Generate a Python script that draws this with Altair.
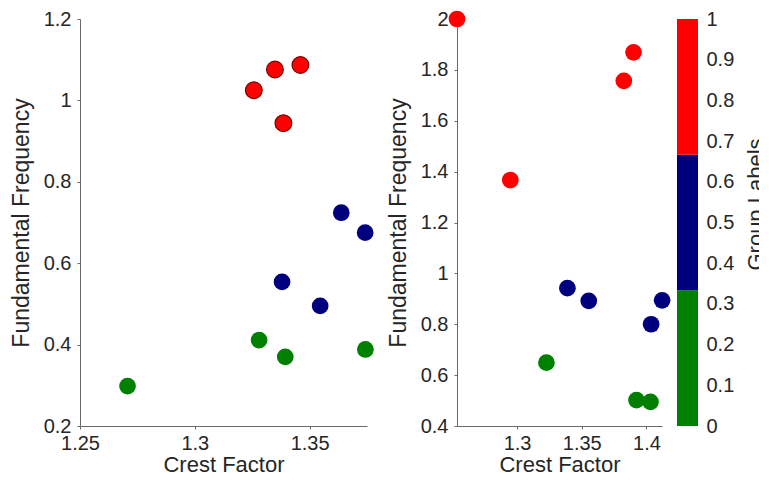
import altair as alt
import pandas as pd

# ---- Left panel data ----
left_red_x = [1.3257, 1.3349, 1.3460, 1.3386]
left_red_y = [1.025, 1.076, 1.087, 0.944]
left_blue_x = [1.3638, 1.3742, 1.3380, 1.3546]
left_blue_y = [0.724, 0.675, 0.554, 0.495]
left_green_x = [1.3280, 1.3394, 1.3743, 1.2707]
left_green_y = [0.411, 0.370, 0.388, 0.298]

# ---- Right panel data ----
right_red_x = [1.2536, 1.3900, 1.3825, 1.2948]
right_red_y = [2.000, 1.869, 1.757, 1.367]
right_blue_x = [1.3389, 1.3554, 1.4121, 1.4036]
right_blue_y = [0.942, 0.892, 0.894, 0.800]
right_green_x = [1.3227, 1.3923, 1.4031]
right_green_y = [0.649, 0.502, 0.495]

# group label values (colormap 0..1, three bins)
group_names = ["0", "0.5", "1"]
group_colors = ["#007f00", "#00007f", "#ff0000"]

left_x_ticks = [1.25, 1.3, 1.35]
left_y_ticks = [0.2, 0.4, 0.6, 0.8, 1, 1.2]
right_x_ticks = [1.3, 1.35, 1.4]
right_y_ticks = [0.4, 0.6, 0.8, 1, 1.2, 1.4, 1.6, 1.8, 2]
cbar_ticks = [0, 0.1, 0.2, 0.3, 0.4, 0.5, 0.6, 0.7, 0.8, 0.9, 1]
cbar_lo = [0, 1 / 3, 2 / 3]
cbar_hi = [1 / 3, 2 / 3, 1]


def make_df(gx, gy, bx, by, rx, ry):
    rows = []
    for x, y in zip(gx, gy):
        rows.append({"x": x, "y": y, "group": "0"})
    for x, y in zip(bx, by):
        rows.append({"x": x, "y": y, "group": "0.5"})
    for x, y in zip(rx, ry):
        rows.append({"x": x, "y": y, "group": "1"})
    return pd.DataFrame(rows)


df_left = make_df(left_green_x, left_green_y, left_blue_x, left_blue_y, left_red_x, left_red_y)
df_right = make_df(right_green_x, right_green_y, right_blue_x, right_blue_y, right_red_x, right_red_y)
df_cb = pd.DataFrame({"lo": cbar_lo, "hi": cbar_hi, "group": group_names})

FONT = "Liberation Sans"
TXT = "#262626"
AX = "#6a6a6a"

color_enc = alt.Color("group:N", scale=alt.Scale(domain=group_names, range=group_colors), legend=None)


def panel(df, xdom, xticks, ydom, yticks, width, red_edge):
    stroke = alt.condition("datum.group == '1'", alt.value("#7a0000"), alt.value("transparent")) if red_edge \
        else alt.value("transparent")
    return alt.Chart(df).mark_circle(size=280, opacity=1, strokeWidth=1.2).encode(
        x=alt.X("x:Q", scale=alt.Scale(domain=xdom, nice=False, zero=False),
                axis=alt.Axis(values=xticks, format="~g", title="Crest Factor",
                              labelPadding=4, titlePadding=1, titleFontSize=22)),
        y=alt.Y("y:Q", scale=alt.Scale(domain=ydom, nice=False, zero=False),
                axis=alt.Axis(values=yticks, format="~g", title="Fundamental Frequency",
                              labelPadding=6, titlePadding=10)),
        color=color_enc,
        stroke=stroke,
    ).properties(width=width, height=407)


left = panel(df_left, [1.25, 1.375], left_x_ticks, [0.2, 1.2], left_y_ticks, 287, True)
right = panel(df_right, [1.2536, 1.412], right_x_ticks, [0.4, 2.0], right_y_ticks, 205, False)

cbar = alt.Chart(df_cb).mark_rect().encode(
    y=alt.Y("lo:Q", scale=alt.Scale(domain=[0, 1], nice=False, zero=False),
            axis=alt.Axis(orient="right", values=cbar_ticks, format="~g", title="Group Labels",
                          titleAngle=270, titleBaseline="top", tickSize=0, labelPadding=8,
                          titlePadding=12, domain=False, titleFontSize=22, titleY=185)),
    y2="hi:Q",
    color=color_enc,
).properties(width=21, height=407)

inner = alt.hconcat(right, cbar, spacing=4)
chart = alt.hconcat(left, inner, spacing=10).properties(
    padding={"left": 2, "top": 0, "right": -8, "bottom": 0}
).configure_axis(
    labelFont=FONT, labelFontSize=20, labelColor=TXT,
    titleFont=FONT, titleFontSize=23, titleFontWeight="normal", titleColor=TXT,
    domainColor=AX, tickColor=AX, tickSize=3, grid=False,
    labelOverlap=False, labelFlush=False,
).configure_view(stroke=None)

chart.save("out.html", embed_options={"renderer": "svg", "actions": False})
